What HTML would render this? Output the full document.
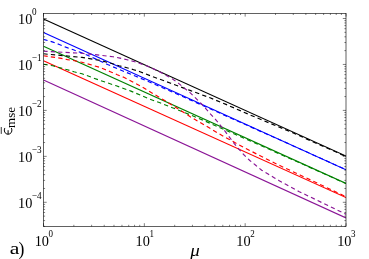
<!DOCTYPE html>
<html><head><meta charset="utf-8"><title>plot</title>
<style>html,body{margin:0;padding:0;background:#fff;}body{width:369px;height:259px;overflow:hidden;font-family:"Liberation Serif",serif;}</style></head>
<body>
<svg width="369" height="259" viewBox="0 0 369 259" style="display:block;will-change:transform">
<rect x="0" y="0" width="369" height="259" fill="#fff"/>
<defs><clipPath id="c"><rect x="43.5" y="13.4" width="302.5" height="213.0"/></clipPath></defs>
<g clip-path="url(#c)" fill="none" stroke-linejoin="round">
<path d="M43.5,19.0 L346.0,156.1" stroke="#000000" stroke-width="1.15"/>
<path d="M43.5,32.6 L346.0,169.8" stroke="#0000ff" stroke-width="1.15"/>
<path d="M43.5,46.3 L346.0,183.4" stroke="#008000" stroke-width="1.15"/>
<path d="M43.5,60.8 L346.0,197.6" stroke="#ff0000" stroke-width="1.15"/>
<path d="M43.5,80.1 L346.0,217.9" stroke="#8a1496" stroke-width="1.15"/>
<path d="M43.4,53.8 L82.0,57.4 L100.0,60.4 L110.0,63.0 L119.0,65.7 L126.0,67.5 L133.6,69.7 L140.0,71.7 L150.0,75.6 L170.0,83.0 L190.0,90.4 L210.0,97.8 L226.0,104.4 L250.0,114.9 L270.0,123.3 L290.0,131.6 L320.0,144.9 L345.9,156.5" stroke="#000000" stroke-width="1.15" stroke-dasharray="4.3 3.2"/>
<path d="M43.4,39.4 L52.3,41.9 L59.3,44.5 L66.4,47.4 L73.4,49.8 L80.5,52.4 L90.0,56.3 L100.0,61.0 L107.6,64.5 L120.0,69.8 L135.8,76.3 L152.0,83.1 L194.0,101.6 L230.0,117.7 L260.0,131.1 L290.0,144.4 L346.0,169.7" stroke="#0000ff" stroke-width="1.15" stroke-dasharray="4.3 3.2"/>
<path d="M43.4,64.2 L52.8,65.8 L67.5,69.8 L74.0,71.8 L82.0,73.8 L100.0,80.4 L116.3,85.8 L130.9,91.1 L140.6,95.2 L150.0,99.2 L160.0,102.8 L170.0,106.8 L180.0,110.7 L190.6,115.0 L203.8,120.5 L210.3,123.4 L217.3,126.5 L240.0,136.5 L260.0,145.2 L300.0,163.0 L346.0,183.6" stroke="#008000" stroke-width="1.15" stroke-dasharray="4.3 3.2"/>
<path d="M43.4,55.8 L59.9,58.1 L67.5,59.6 L74.5,60.8 L82.0,62.3 L100.0,67.4 L103.8,69.0 L110.3,71.7 L117.3,74.7 L123.3,77.1 L130.9,81.0 L140.6,86.0 L153.7,94.0 L169.5,103.4 L190.6,116.9 L204.9,125.3 L211.9,129.5 L224.3,136.8 L237.3,143.9 L244.4,147.7 L250.5,150.8 L256.6,154.0 L263.3,157.3 L269.6,160.5 L277.0,164.2 L284.3,167.7 L291.3,170.9 L300.0,175.0 L320.0,184.4 L335.0,191.5 L346.0,196.7" stroke="#ff0000" stroke-width="1.15" stroke-dasharray="4.3 3.2"/>
<path d="M43.4,51.2 L82.0,53.3 L100.0,55.2 L113.0,56.7 L120.0,58.1 L127.1,59.8 L134.7,61.7 L140.0,63.5 L147.0,66.0 L153.0,68.6 L159.9,72.0 L166.4,75.5 L172.6,79.1 L178.3,83.1 L184.3,88.1 L190.3,92.9 L195.7,98.1 L201.1,103.5 L206.0,108.9 L210.8,114.3 L216.0,120.0 L220.6,125.7 L224.8,130.9 L229.8,137.7 L234.1,143.3 L239.0,149.3 L243.6,154.5 L249.8,160.5 L255.7,165.3 L261.7,170.2 L268.1,174.0 L274.5,177.9 L278.8,180.4 L285.3,184.1 L290.7,187.1 L298.8,191.5 L310.0,196.8 L328.0,205.6 L345.9,214.2" stroke="#8a1496" stroke-width="1.15" stroke-dasharray="4.2 3.2"/>
</g>
<path d="M43.50,226.4 v-3.2 M43.50,13.4 v3.2 M73.85,226.4 v-1.6 M73.85,13.4 v1.6 M91.61,226.4 v-1.6 M91.61,13.4 v1.6 M104.21,226.4 v-1.6 M104.21,13.4 v1.6 M113.98,226.4 v-1.6 M113.98,13.4 v1.6 M121.96,226.4 v-1.6 M121.96,13.4 v1.6 M128.71,226.4 v-1.6 M128.71,13.4 v1.6 M134.56,226.4 v-1.6 M134.56,13.4 v1.6 M139.72,226.4 v-1.6 M139.72,13.4 v1.6 M144.33,226.4 v-3.2 M144.33,13.4 v3.2 M174.69,226.4 v-1.6 M174.69,13.4 v1.6 M192.44,226.4 v-1.6 M192.44,13.4 v1.6 M205.04,226.4 v-1.6 M205.04,13.4 v1.6 M214.81,226.4 v-1.6 M214.81,13.4 v1.6 M222.80,226.4 v-1.6 M222.80,13.4 v1.6 M229.55,226.4 v-1.6 M229.55,13.4 v1.6 M235.39,226.4 v-1.6 M235.39,13.4 v1.6 M240.55,226.4 v-1.6 M240.55,13.4 v1.6 M245.17,226.4 v-3.2 M245.17,13.4 v3.2 M275.52,226.4 v-1.6 M275.52,13.4 v1.6 M293.28,226.4 v-1.6 M293.28,13.4 v1.6 M305.87,226.4 v-1.6 M305.87,13.4 v1.6 M315.65,226.4 v-1.6 M315.65,13.4 v1.6 M323.63,226.4 v-1.6 M323.63,13.4 v1.6 M330.38,226.4 v-1.6 M330.38,13.4 v1.6 M336.23,226.4 v-1.6 M336.23,13.4 v1.6 M341.39,226.4 v-1.6 M341.39,13.4 v1.6 M346.00,226.4 v-3.2 M346.00,13.4 v3.2 M43.5,226.33 h1.6 M346.0,226.33 h-1.6 M43.5,220.59 h1.6 M346.0,220.59 h-1.6 M43.5,216.13 h1.6 M346.0,216.13 h-1.6 M43.5,212.49 h1.6 M346.0,212.49 h-1.6 M43.5,209.42 h1.6 M346.0,209.42 h-1.6 M43.5,206.75 h1.6 M346.0,206.75 h-1.6 M43.5,204.40 h1.6 M346.0,204.40 h-1.6 M43.5,202.30 h3.2 M346.0,202.30 h-3.2 M43.5,188.47 h1.6 M346.0,188.47 h-1.6 M43.5,180.38 h1.6 M346.0,180.38 h-1.6 M43.5,174.64 h1.6 M346.0,174.64 h-1.6 M43.5,170.18 h1.6 M346.0,170.18 h-1.6 M43.5,166.54 h1.6 M346.0,166.54 h-1.6 M43.5,163.47 h1.6 M346.0,163.47 h-1.6 M43.5,160.80 h1.6 M346.0,160.80 h-1.6 M43.5,158.45 h1.6 M346.0,158.45 h-1.6 M43.5,156.35 h3.2 M346.0,156.35 h-3.2 M43.5,142.52 h1.6 M346.0,142.52 h-1.6 M43.5,134.43 h1.6 M346.0,134.43 h-1.6 M43.5,128.69 h1.6 M346.0,128.69 h-1.6 M43.5,124.23 h1.6 M346.0,124.23 h-1.6 M43.5,120.59 h1.6 M346.0,120.59 h-1.6 M43.5,117.52 h1.6 M346.0,117.52 h-1.6 M43.5,114.85 h1.6 M346.0,114.85 h-1.6 M43.5,112.50 h1.6 M346.0,112.50 h-1.6 M43.5,110.40 h3.2 M346.0,110.40 h-3.2 M43.5,96.57 h1.6 M346.0,96.57 h-1.6 M43.5,88.48 h1.6 M346.0,88.48 h-1.6 M43.5,82.74 h1.6 M346.0,82.74 h-1.6 M43.5,78.28 h1.6 M346.0,78.28 h-1.6 M43.5,74.64 h1.6 M346.0,74.64 h-1.6 M43.5,71.57 h1.6 M346.0,71.57 h-1.6 M43.5,68.90 h1.6 M346.0,68.90 h-1.6 M43.5,66.55 h1.6 M346.0,66.55 h-1.6 M43.5,64.45 h3.2 M346.0,64.45 h-3.2 M43.5,50.62 h1.6 M346.0,50.62 h-1.6 M43.5,42.53 h1.6 M346.0,42.53 h-1.6 M43.5,36.79 h1.6 M346.0,36.79 h-1.6 M43.5,32.33 h1.6 M346.0,32.33 h-1.6 M43.5,28.69 h1.6 M346.0,28.69 h-1.6 M43.5,25.62 h1.6 M346.0,25.62 h-1.6 M43.5,22.95 h1.6 M346.0,22.95 h-1.6 M43.5,20.60 h1.6 M346.0,20.60 h-1.6 M43.5,18.50 h3.2 M346.0,18.50 h-3.2" stroke="#000" stroke-width="0.5" fill="none"/>
<rect x="43.5" y="13.4" width="302.5" height="213.0" fill="none" stroke="#000" stroke-width="0.62"/>
<g font-family="'Liberation Serif', serif" fill="#000">
<text transform="translate(18.00,23.80) scale(0.94,1)" font-size="15.2">10</text><text transform="translate(31.90,14.80) scale(0.92,1)" font-size="10">0</text>
<text transform="translate(18.00,69.75) scale(0.94,1)" font-size="15.2">10</text><text transform="translate(31.90,60.75) scale(0.92,1)" font-size="10">−1</text>
<text transform="translate(18.00,115.70) scale(0.94,1)" font-size="15.2">10</text><text transform="translate(31.90,106.70) scale(0.92,1)" font-size="10">−2</text>
<text transform="translate(18.00,161.65) scale(0.94,1)" font-size="15.2">10</text><text transform="translate(31.90,152.65) scale(0.92,1)" font-size="10">−3</text>
<text transform="translate(18.00,207.60) scale(0.94,1)" font-size="15.2">10</text><text transform="translate(31.90,198.60) scale(0.92,1)" font-size="10">−4</text>
<text transform="translate(34.70,245.50) scale(0.94,1)" font-size="15.2">10</text><text transform="translate(48.60,236.70) scale(0.92,1)" font-size="9.8">0</text>
<text transform="translate(135.53,245.50) scale(0.94,1)" font-size="15.2">10</text><text transform="translate(149.43,236.70) scale(0.92,1)" font-size="9.8">1</text>
<text transform="translate(236.37,245.50) scale(0.94,1)" font-size="15.2">10</text><text transform="translate(250.27,236.70) scale(0.92,1)" font-size="9.8">2</text>
<text transform="translate(337.20,245.50) scale(0.94,1)" font-size="15.2">10</text><text transform="translate(351.10,236.70) scale(0.92,1)" font-size="9.8">3</text>
<text transform="translate(9.7,254.2) scale(1.25,1)" font-size="17.4">a</text><text transform="translate(18.5,255.0) scale(0.9,1)" font-size="19.6">)</text>
<text transform="translate(190.3,255.8) scale(1.2,1)" font-size="15.8" font-style="italic">μ</text>
<g transform="translate(12.7,134.9) rotate(-90)"><path d="M6.6,-8.0 C4.6,-9.1 0.7,-8.1 0.7,-4.6 C0.7,-1.1 4.6,-0.1 6.6,-1.2 M1.0,-4.6 L4.3,-4.6" fill="none" stroke="#000" stroke-width="1.0" stroke-linecap="round"/><rect x="1.0" y="-11.9" width="6.9" height="0.8"/><text x="7.0" y="2.0" font-size="13">mse</text></g>
</g>
</svg>
</body></html>
